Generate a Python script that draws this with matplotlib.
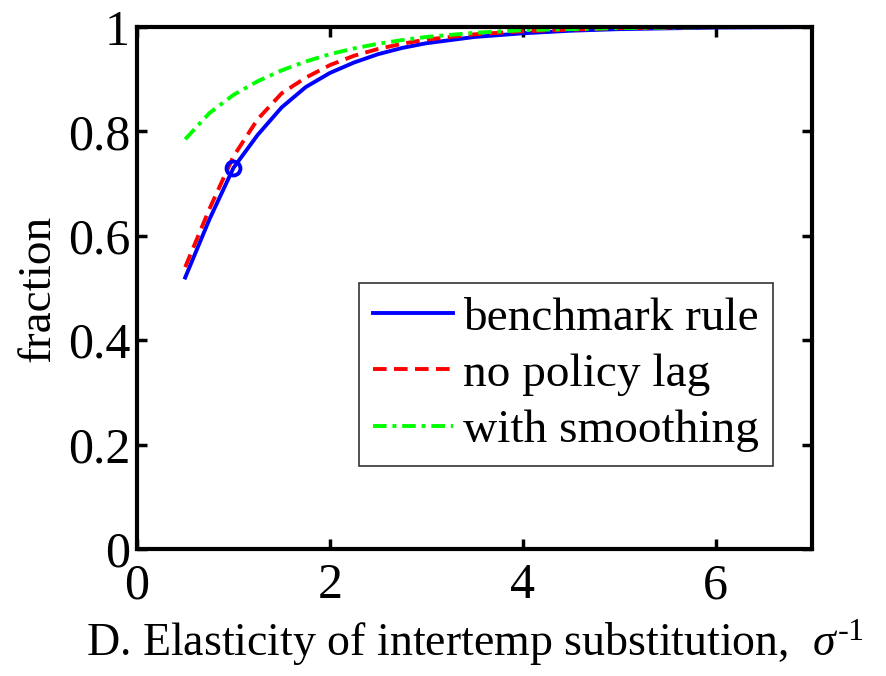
import matplotlib
matplotlib.use("Agg")
import matplotlib.pyplot as plt

plt.rcParams['font.family'] = ['Liberation Serif', 'DejaVu Serif']
plt.rcParams['mathtext.fontset'] = 'custom'
plt.rcParams['mathtext.rm'] = 'Liberation Serif'
plt.rcParams['mathtext.it'] = 'Liberation Serif:italic'

# values
sigma_inv = [0.5, 0.75, 1.0, 1.25, 1.5, 1.75, 2.0, 2.25, 2.5, 2.75, 3.0, 3.5, 4.0, 4.5, 5.0, 6.0, 7.0]
benchmark = [0.52, 0.631, 0.73, 0.793, 0.846, 0.885, 0.912, 0.932, 0.948, 0.96, 0.969, 0.981, 0.988, 0.993, 0.996, 0.999, 1.0]
no_lag = [0.54, 0.651, 0.752, 0.823, 0.873, 0.903, 0.927, 0.945, 0.958, 0.968, 0.976, 0.986, 0.992, 0.995, 0.998, 1.0, 1.0]
smoothing = [0.785, 0.835, 0.87, 0.896, 0.917, 0.934, 0.948, 0.959, 0.968, 0.975, 0.981, 0.989, 0.994, 0.996, 0.998, 1.0, 1.0]
marker_x = [1.0]
marker_y = [0.73]

fig = plt.figure(figsize=(8.86, 6.76), dpi=100)
ax = fig.add_axes([0.1546, 0.188, 0.762, 0.772])

ax.plot(sigma_inv, benchmark, color='#0000ff', lw=2.8, label='benchmark rule')
ax.plot(sigma_inv, no_lag, color='#ff0000', lw=2.8, dashes=(3.5, 1.9), label='no policy lag')
ax.plot(sigma_inv, smoothing, color='#00ff00', lw=2.8, dashes=(3.5, 1.5, 1.0, 1.5), label='with smoothing')
ax.plot(marker_x, marker_y, 'o', color='#0000ff', mfc='none', mew=2.8, ms=10)

ax.set_xlim(0, 7)
ax.set_ylim(0, 1)
ax.set_xticks([0, 2, 4, 6])
ax.set_yticks([0, 0.2, 0.4, 0.6, 0.8, 1])
ax.set_yticklabels(['0', '0.2', '0.4', '0.6', '0.8', '1'])
ax.tick_params(direction='in', length=7, width=2.5, top=True, right=True, labelsize=36)
ax.tick_params(axis='x', pad=10)
ax.tick_params(axis='y', pad=5)
for s in ax.spines.values():
    s.set_linewidth(3)

ax.set_xlabel(r'D. Elasticity of intertemp substitution,  $\mathit{\sigma}^{\mathit{\text{-}1}}$',
              fontsize=33, labelpad=6)
ax.set_ylabel('fraction', fontsize=34, labelpad=6)

leg = ax.legend(loc='lower right', bbox_to_anchor=(0.942, 0.158), fontsize=34,
                frameon=True, fancybox=False, handlelength=1.7, handletextpad=0.2,
                labelspacing=0.28, borderpad=0.3, borderaxespad=0)
leg.get_frame().set_edgecolor('black')
leg.get_frame().set_linewidth(1.2)

fig.savefig('out.png', dpi=100)
